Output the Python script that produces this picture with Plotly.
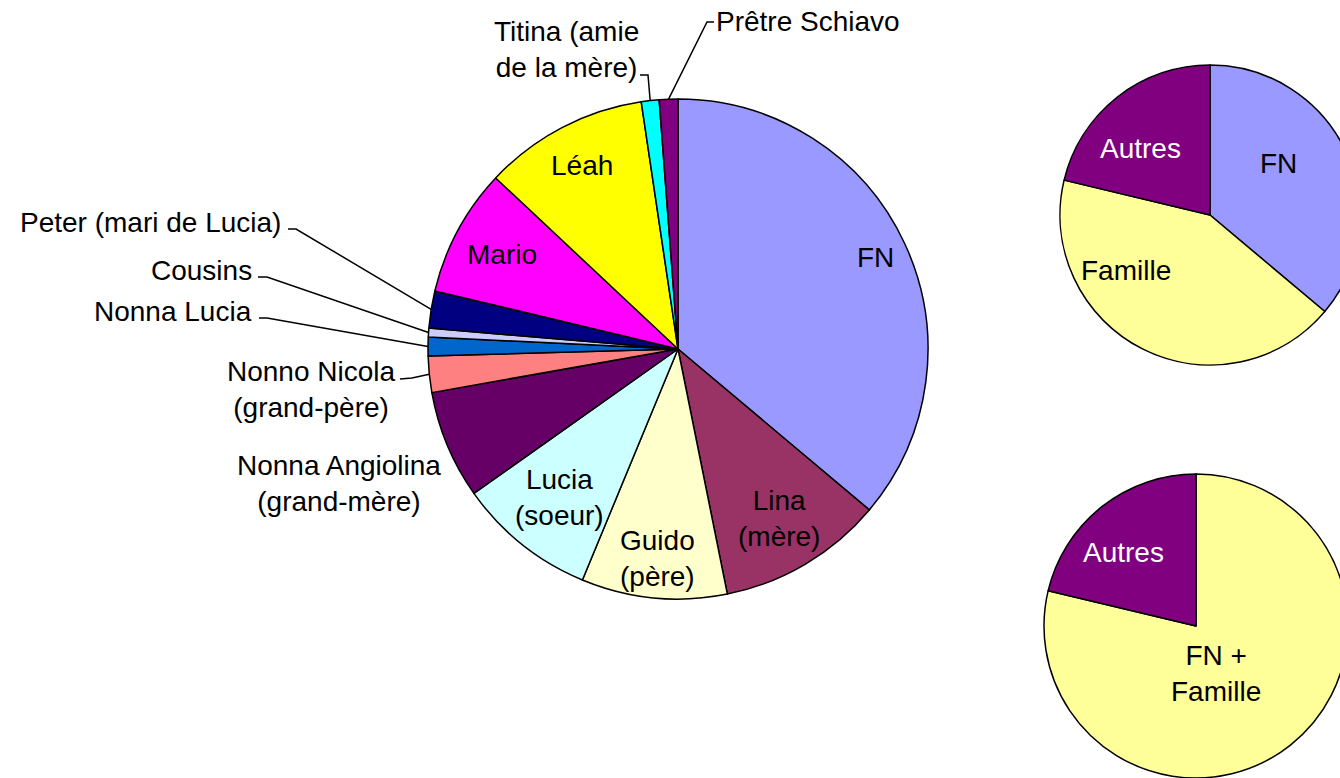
import math
import plotly.graph_objects as go

# ---------------- data ----------------
labels = ["FN", "Lina (mère)", "Guido (père)", "Lucia (soeur)",
          "Nonna Angiolina (grand-mère)", "Nonno Nicola (grand-père)",
          "Nonna Lucia", "Cousins", "Peter (mari de Lucia)", "Mario",
          "Léah", "Titina (amie de la mère)", "Prêtre Schiavo"]
values = [36.1, 10.7, 9.4, 8.95, 7.0, 2.35, 1.2, 0.57, 2.4, 8.25, 10.65, 1.15, 1.2]
colors = ["#9999FF", "#993366", "#FFFFCC", "#CCFFFF", "#660066", "#FF8080",
          "#0066CC", "#CCCCFF", "#000080", "#FF00FF", "#FFFF00", "#00FFFF", "#800080"]
group = ["FN", "Famille", "Famille", "Famille", "Famille", "Famille",
         "Famille", "Famille", "Famille", "Autres", "Autres", "Autres", "Autres"]

summary1_labels = ["FN", "Famille", "Autres"]
summary1_values = [sum(v for v, g in zip(values, group) if g == k) for k in summary1_labels]
summary1_colors = ["#9999FF", "#FFFF99", "#800080"]

summary2_labels = ["FN + Famille", "Autres"]
summary2_values = [summary1_values[0] + summary1_values[1], summary1_values[2]]
summary2_colors = ["#FFFF99", "#800080"]

# ---------------- layout helpers ----------------
W, H = 1380, 778
FONT = "Liberation Sans, Arial, sans-serif"
FS = 28


def px(x):
    return x / W


def py(y):
    return 1 - y / H


MAIN_C = (678, 349)
MAIN_R = 250


def dom(cx, cy, r):
    return dict(x=[px(cx - r), px(cx + r)], y=[py(cy + r), py(cy - r)])


fig = go.Figure()
line = dict(color="black", width=1.5)
fig.add_trace(go.Pie(labels=labels, values=values, sort=False, direction="clockwise",
                     rotation=0, marker=dict(colors=colors, line=line),
                     textinfo="none", hoverinfo="label+percent",
                     domain=dom(MAIN_C[0], MAIN_C[1], MAIN_R)))
fig.add_trace(go.Pie(labels=summary1_labels, values=summary1_values, sort=False,
                     direction="clockwise", rotation=0,
                     marker=dict(colors=summary1_colors, line=line),
                     textinfo="none", domain=dom(1210, 215, 150)))
fig.add_trace(go.Pie(labels=summary2_labels, values=summary2_values, sort=False,
                     direction="clockwise", rotation=0,
                     marker=dict(colors=summary2_colors, line=line),
                     textinfo="none", domain=dom(1196, 626, 152)))

# angles of main pie (clockwise from 12 o'clock)
tot = sum(values)
mids = []
acc = 0
for v in values:
    mids.append((acc + v / 2) / tot * 2 * math.pi)
    acc += v


def pie_point(i, frac):
    a = mids[i]
    return (MAIN_C[0] + frac * MAIN_R * math.sin(a), MAIN_C[1] - frac * MAIN_R * math.cos(a))


annotations = []


def ann(text, x, y, xanchor="center", color="black", align="center"):
    annotations.append(dict(text=text, x=px(x), y=py(y), xref="paper", yref="paper",
                            xanchor=xanchor, yanchor="middle", showarrow=False,
                            align=align, font=dict(family=FONT, size=FS, color=color)))


# inside labels main pie (index, text, radius fraction)
inside = [(0, "FN", 0.87), (1, "Lina<br>(mère)", 0.79), (2, "Guido<br>(père)", 0.84),
          (3, "Lucia<br>(soeur)", 0.76), (9, "Mario", 0.80), (10, "Léah", 0.83)]
for i, t, f in inside:
    x, y = pie_point(i, f)
    ann(t, x, y)

# outside labels
ann("Titina (amie<br>de la mère)", 566, 50)
ann("Prêtre Schiavo", 714, 22, xanchor="left")
ann("Peter (mari de Lucia)", 283, 222, xanchor="right")
ann("Cousins", 254, 270, xanchor="right")
ann("Nonna Lucia", 254, 311, xanchor="right")
ann("Nonno Nicola<br>(grand-père)", 311, 389)
ann("Nonna Angiolina<br>(grand-mère)", 339, 483)

# small pies labels
ann("FN", 1278, 163)
ann("Autres", 1140, 148, color="white")
ann("Famille", 1126, 270)
ann("Autres", 1123, 552, color="white")
ann("FN +<br>Famille", 1216, 673)

# leader lines: (slice index, start point, elbow point)
leaders = [
    (11, (640, 75), (648, 75)),
    (12, (714, 22), (707, 22)),
    (8, (288, 229), (296, 229)),
    (7, (258, 277), (267, 277)),
    (6, (259, 318), (267, 318)),
    (5, (400, 379), (412, 378)),
]
shapes = []
for i, s, e in leaders:
    ex, ey = pie_point(i, 1.0)
    path = f"M {px(s[0])},{py(s[1])} L {px(e[0])},{py(e[1])} L {px(ex)},{py(ey)}"
    shapes.append(dict(type="path", path=path, xref="paper", yref="paper",
                       line=dict(color="black", width=1.5)))

fig.update_layout(width=W, height=H, margin=dict(l=0, r=0, t=0, b=0),
                  paper_bgcolor="white", plot_bgcolor="white", showlegend=False,
                  annotations=annotations, shapes=shapes,
                  font=dict(family=FONT, size=FS))

fig.write_html("out.html", config={"displayModeBar": False},
               post_script="document.body.style.margin='0';document.body.style.overflow='hidden';")
